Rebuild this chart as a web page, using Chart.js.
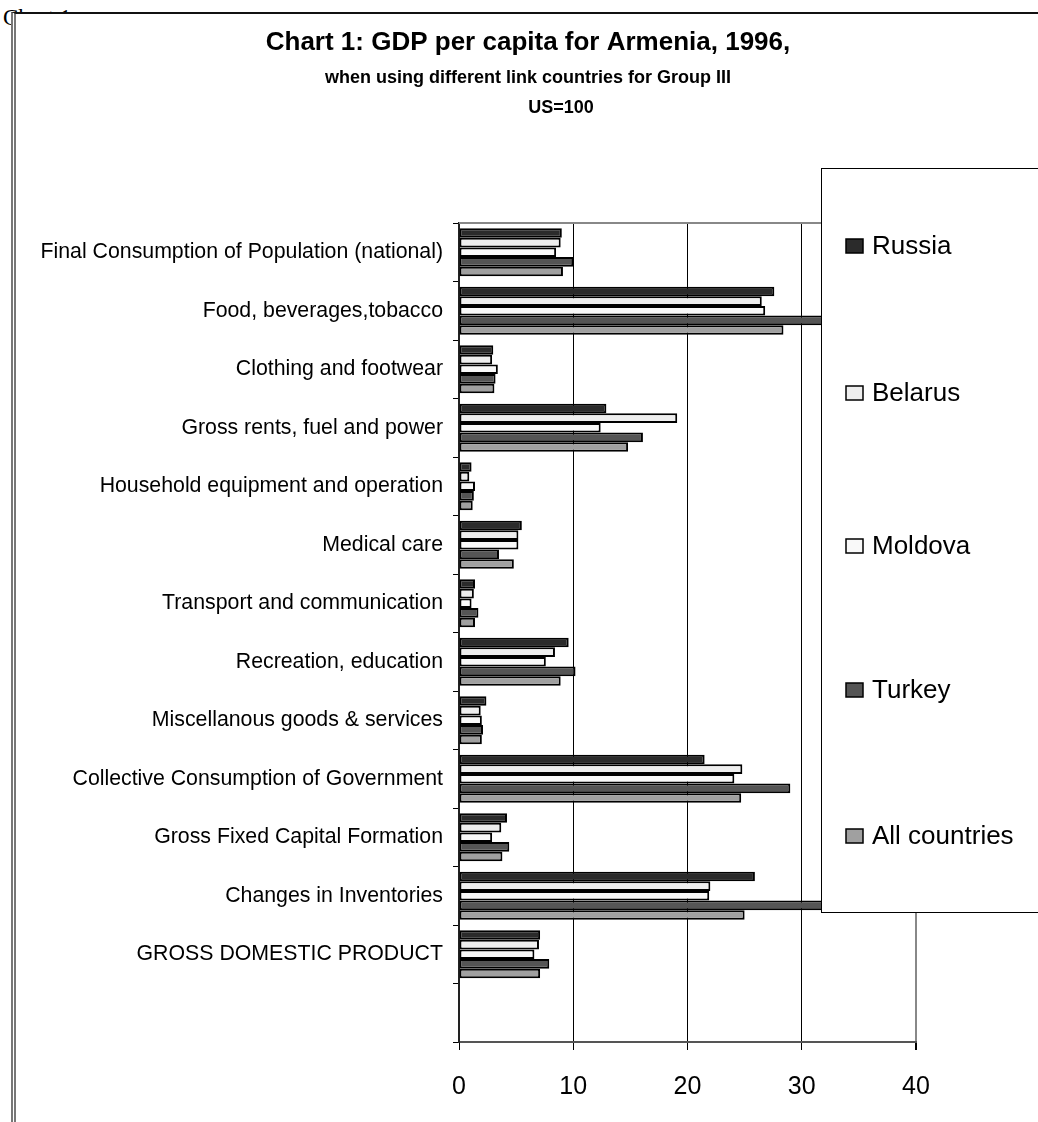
<!DOCTYPE html>
<html>
<head>
<meta charset="utf-8">
<title>GDP per capita for Armenia, 1996</title>
<script src="https://cdn.jsdelivr.net/npm/chart.js@4.4.1/dist/chart.umd.min.js"></script>
<style>
  html, body { margin: 0; padding: 0; background: #fff; overflow: hidden; }
  #cap { position: absolute; left: 3px; top: 5px; font: 23px "Liberation Serif", "Times New Roman", serif; color: #000; }
  #frame { position: absolute; left: 11px; top: 12px; width: 1100px; height: 1200px;
           border-top: 2px solid #111; border-left: 5px double #777; background: #fff; }
  #frame canvas { position: absolute; left: 0; top: 0; }
</style>
</head>
<body>
<div id="cap">Chart 1</div>
<div id="frame"><canvas id="c" width="1022" height="1108"></canvas></div>
<script>
// Categories of expenditure (top to bottom); the last slot is left empty
const categories = [
  'Final Consumption of Population (national)',
  'Food, beverages,tobacco',
  'Clothing and footwear',
  'Gross rents, fuel and power',
  'Household equipment and operation',
  'Medical care',
  'Transport and communication',
  'Recreation, education',
  'Miscellanous goods & services',
  'Collective Consumption of Government',
  'Gross Fixed Capital Formation',
  'Changes in Inventories',
  'GROSS DOMESTIC PRODUCT',
  ''
];

// GDP per capita, US=100, by link country used for Group III
const russia       = [9.0, 27.6, 3.0, 12.9, 1.1, 5.5, 1.4, 9.6, 2.4, 21.5, 4.2, 25.9, 7.1, null];
const belarus      = [8.9, 26.5, 2.9, 19.1, 0.9, 5.2, 1.3, 8.4, 1.9, 24.8, 3.7, 22.0, 7.0, null];
const moldova      = [8.5, 26.8, 3.4, 12.4, 1.4, 5.2, 1.1, 7.6, 2.0, 24.1, 2.9, 21.9, 6.6, null];
const turkey       = [10.0, 33.0, 3.2, 16.1, 1.3, 3.5, 1.7, 10.2, 2.1, 29.0, 4.4, 33.0, 7.9, null];
const allCountries = [9.1, 28.4, 3.1, 14.8, 1.2, 4.8, 1.4, 8.9, 2.0, 24.7, 3.8, 25.0, 7.1, null];

const seriesNames = ['Russia', 'Belarus', 'Moldova', 'Turkey', 'All countries'];
const xTicks = [0, 10, 20, 30, 40];

const titleLines = [
  'Chart 1: GDP per capita for Armenia, 1996,',
  'when using different link countries for Group III',
  'US=100'
];

const FONT = '"Liberation Sans", Arial, Helvetica, sans-serif';
const fills = ['#2b2b2b', '#eeeeee', '#f9f9f9', '#555555', '#a0a0a0'];
const seriesData = [russia, belarus, moldova, turkey, allCountries];

// Title block drawn above the plot
const titlePlugin = {
  id: 'titleBlock',
  afterDraw(chart) {
    const ctx = chart.ctx;
    ctx.save();
    ctx.fillStyle = '#000';
    ctx.textAlign = 'center';
    ctx.textBaseline = 'alphabetic';
    ctx.font = 'bold 26px ' + FONT;
    ctx.fillText(titleLines[0], 512, 36);
    ctx.font = 'bold 18px ' + FONT;
    ctx.fillText(titleLines[1], 512, 69);
    ctx.fillText(titleLines[2], 545, 99);
    ctx.restore();
  }
};

// Grey frame line along the top of the plot area
const plotBorder = {
  id: 'plotBorder',
  beforeDatasetsDraw(chart) {
    const { ctx, chartArea: a } = chart;
    ctx.save();
    ctx.strokeStyle = '#888';
    ctx.lineWidth = 2;
    ctx.beginPath();
    ctx.moveTo(a.left, a.top);
    ctx.lineTo(a.right, a.top);
    ctx.stroke();
    ctx.restore();
  }
};

// Boxed legend sitting over the right side of the plot
const boxLegend = {
  id: 'boxLegend',
  afterDatasetsDraw(chart) {
    const ctx = chart.ctx;
    const box = { x: 805.5, y: 154.5, w: 260, h: 744 };
    ctx.save();
    ctx.fillStyle = '#fff';
    ctx.fillRect(box.x, box.y, box.w, box.h);
    ctx.strokeStyle = '#000';
    ctx.lineWidth = 1;
    ctx.strokeRect(box.x, box.y, box.w, box.h);
    const rows = [232, 379, 532, 676, 822];
    ctx.font = '26px ' + FONT;
    ctx.textBaseline = 'middle';
    ctx.textAlign = 'left';
    chart.data.datasets.forEach((ds, i) => {
      const y = rows[i];
      ctx.fillStyle = ds.backgroundColor;
      ctx.fillRect(830, y - 7, 17, 14);
      ctx.strokeStyle = '#000';
      ctx.lineWidth = 1.5;
      ctx.strokeRect(830, y - 7, 17, 14);
      ctx.fillStyle = '#000';
      ctx.fillText(ds.label, 856, y + 1);
    });
    ctx.restore();
  }
};

new Chart(document.getElementById('c'), {
  type: 'bar',
  data: {
    labels: categories,
    datasets: seriesNames.map((name, i) => ({
      label: name,
      data: seriesData[i],
      backgroundColor: fills[i],
      borderColor: '#000',
      borderWidth: 2,
      borderSkipped: false,
      categoryPercentage: 0.82,
      barPercentage: 1.0
    }))
  },
  options: {
    indexAxis: 'y',
    responsive: false,
    devicePixelRatio: 1,
    animation: false,
    layout: { padding: { top: 209, right: 122, left: 0, bottom: 0 } },
    plugins: {
      legend: { display: false },
      title: { display: false },
      tooltip: { enabled: false }
    },
    scales: {
      x: {
        min: 0,
        max: 40,
        afterBuildTicks(scale) { scale.ticks = xTicks.map(v => ({ value: v })); },
        afterFit(scale) { scale.height = 80; },
        ticks: {
          color: '#000',
          font: { family: FONT, size: 25 },
          padding: 22,
          maxRotation: 0
        },
        grid: {
          color: c => (c.tick && c.tick.value === 40 ? '#888' : '#000'),
          lineWidth: c => (c.tick && c.tick.value === 40 ? 2 : 1),
          tickColor: '#000',
          tickLength: 8
        },
        border: { color: '#555', width: 2 }
      },
      y: {
        afterFit(scale) { scale.width = 443; },
        ticks: {
          color: '#000',
          font: { family: FONT, size: 21.3 },
          padding: 10,
          autoSkip: false
        },
        grid: {
          drawOnChartArea: false,
          tickColor: '#000',
          tickLength: 6
        },
        border: { color: '#222', width: 2 }
      }
    }
  },
  plugins: [plotBorder, boxLegend, titlePlugin]
});
</script>
</body>
</html>
